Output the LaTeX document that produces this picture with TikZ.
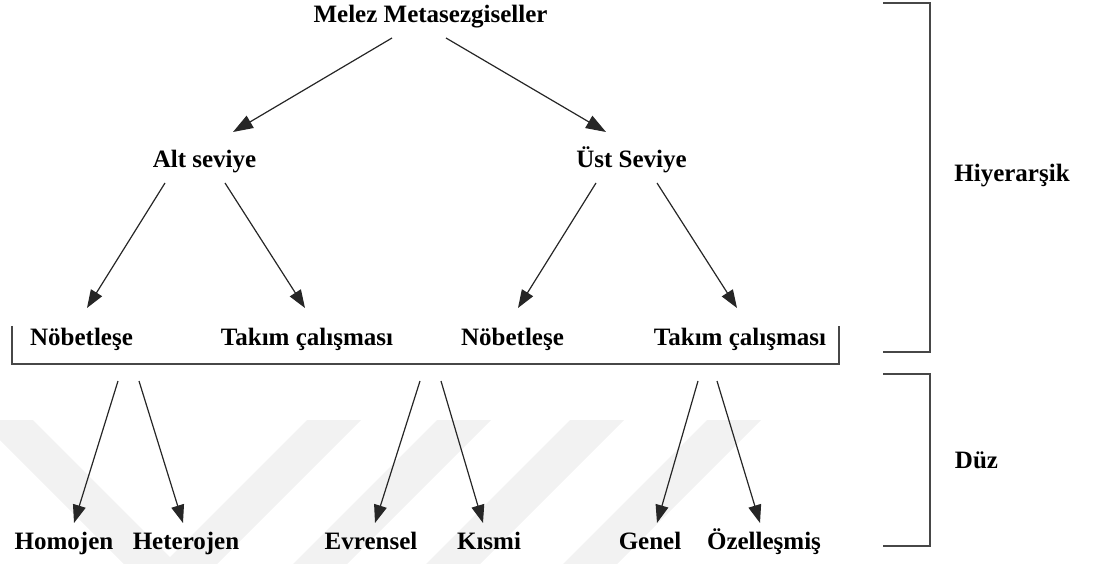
\documentclass[tikz,border=0pt]{standalone}
\usepackage{fontspec}
\setmainfont{Liberation Serif}
\usetikzlibrary{arrows.meta,calc}
\begin{document}
\begin{tikzpicture}[x=1pt,y=-1pt,
  lbl/.style={font=\bfseries\fontsize{25}{30}\selectfont, inner sep=0pt, anchor=base,
              text height=18pt, text depth=6pt},
  arr/.style={draw=black!85, line width=1.2pt, -{Triangle[length=18pt,width=13pt]}},
  bigarr/.style={arr, -{Triangle[length=20pt,width=14pt]}},
  frame/.style={draw=black!72, line width=1.4pt},
  bracket/.style={draw=black!72, line width=1.7pt},
  wm/.style={fill=black!5, draw=none}]
\useasboundingbox (0,0) rectangle (1104,564);

% faint chevron bands in the background
\begin{scope}
  \clip (0,0) rectangle (1104,564);
  \fill[wm] (-20,420) -- (33,420) -- (177,564) -- (124,564) -- cycle;
  \foreach \x in {307,437,570,707}
    \fill[wm] (\x,420) -- (\x+54,420) -- (\x-90,564) -- (\x-144,564) -- cycle;
\end{scope}

% labels
\node[lbl] (root) at (430.5,23)  {Melez Metasezgiseller};
\node[lbl] (alt)  at (204.5,168) {Alt seviye};
\node[lbl] (ust)  at (631.5,168) {Üst Seviye};
\node[lbl] (nob1) at (81.5,345)  {Nöbetleşe};
\node[lbl] (tak1) at (307,345)   {Takım çalışması};
\node[lbl] (nob2) at (512.5,345) {Nöbetleşe};
\node[lbl] (tak2) at (740,345)   {Takım çalışması};
\node[lbl] (homo) at (64,549)    {Homojen};
\node[lbl] (hete) at (186,549)   {Heterojen};
\node[lbl] (evr)  at (371,549)   {Evrensel};
\node[lbl] (kis)  at (489,549)   {Kısmi};
\node[lbl] (gen)  at (650,549)   {Genel};
\node[lbl] (oze)  at (764,549)   {Özelleşmiş};
\node[lbl] (hier) at (1012,182)  {Hiyerarşik};
\node[lbl] (flat) at (976.5,468) {Düz};

% hierarchical arrows
\draw[bigarr] ($(root.base)+(-38.5,15)$) -- ($(alt.base)+(28.5,-36)$);
\draw[bigarr] ($(root.base)+(15.5,15)$)  -- ($(ust.base)+(-25.5,-36)$);
\draw[arr] ($(alt.base)+(-39.5,15)$)  -- ($(nob1.base)+(5.5,-37)$);
\draw[arr] ($(alt.base)+(20.5,15)$)   -- ($(tak1.base)+(-2,-37)$);
\draw[arr] ($(ust.base)+(-35.5,15)$)  -- ($(nob2.base)+(5.5,-37)$);
\draw[arr] ($(ust.base)+(25.5,15)$)   -- ($(tak2.base)+(-3,-37)$);

% open frame round the third row
\coordinate (ftl) at (12,326);
\coordinate (fbl) at (12,364);
\coordinate (fbr) at (839,364);
\coordinate (ftr) at (839,326);
\draw[frame] (ftl) -- (fbl) -- (fbr) -- (ftr);

% flat arrows below the frame
\coordinate (f1) at (118,381);
\coordinate (f2) at (139,381);
\coordinate (f3) at (420,381);
\coordinate (f4) at (441,381);
\coordinate (f5) at (698,381);
\coordinate (f6) at (717,381);
\draw[arr] (f1) -- ($(homo.base)+(10,-26)$);
\draw[arr] (f2) -- ($(hete.base)+(-3,-26)$);
\draw[arr] (f3) -- ($(evr.base)+(4,-26)$);
\draw[arr] (f4) -- ($(kis.base)+(-6,-26)$);
\draw[arr] (f5) -- ($(gen.base)+(7,-26)$);
\draw[arr] (f6) -- ($(oze.base)+(-4,-26)$);

% brackets on the right
\draw[bracket] (883,3) -- (930,3) -- (930,352) -- (883,352);
\draw[bracket] (883,374) -- (930,374) -- (930,546) -- (883,546);
\end{tikzpicture}
\end{document}
